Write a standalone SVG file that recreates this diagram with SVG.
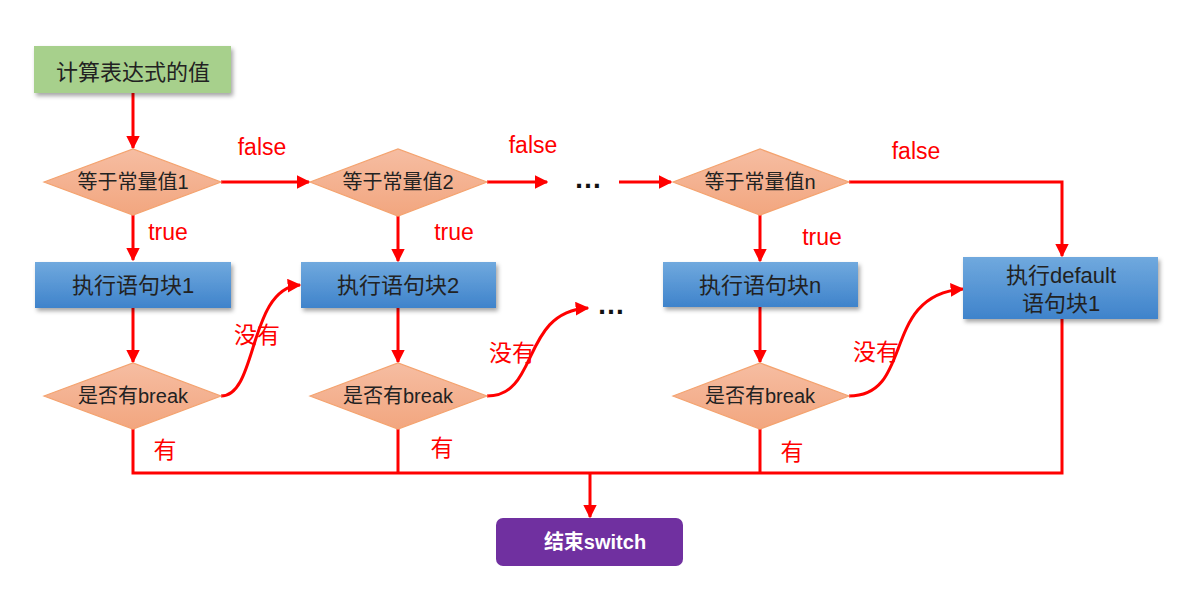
<svg xmlns="http://www.w3.org/2000/svg" width="1190" height="596" viewBox="0 0 1190 596">
<defs>
<style>
.t{font-family:"Liberation Sans","Noto Sans CJK SC",sans-serif;fill:#222;text-anchor:middle}
.box{font-size:22px}
.dt{font-size:20px}
.lbl{font-family:"Liberation Sans","Noto Sans CJK SC",sans-serif;fill:#ff0000;font-size:23px;text-anchor:middle}
.dots{font-family:"Liberation Sans",sans-serif;fill:#111;font-size:28px;font-weight:bold;text-anchor:middle}
.ln{fill:none;stroke:#ff0000;stroke-width:3}
.dia{fill:url(#gd);stroke:#f4a36f;stroke-width:1.2}
.blue{fill:url(#gb);filter:url(#sh)}
</style>
<linearGradient id="gb" x1="0" y1="0" x2="0" y2="1"><stop offset="0" stop-color="#70a9de"/><stop offset="1" stop-color="#3f83cb"/></linearGradient>
<linearGradient id="gd" x1="0" y1="0" x2="0" y2="1"><stop offset="0" stop-color="#f6bda2"/><stop offset="1" stop-color="#f2a67f"/></linearGradient>
<filter id="sh" x="-10%" y="-10%" width="125%" height="140%"><feDropShadow dx="2" dy="3" stdDeviation="2" flood-color="#000" flood-opacity="0.35"/></filter>
<marker id="ar" viewBox="0 0 10 10" refX="9" refY="5" markerWidth="4.6" markerHeight="4.6" orient="auto" markerUnits="strokeWidth"><path d="M0,0 L10,5 L0,10 z" fill="#ff0000"/></marker>
</defs>
<rect width="1190" height="596" fill="#fff"/>

<g id="connectors">
<path class="ln" d="M133,93 V148" marker-end="url(#ar)"/>
<path class="ln" d="M221,182 H309" marker-end="url(#ar)"/>
<path class="ln" d="M487,182 H547" marker-end="url(#ar)"/>
<path class="ln" d="M619,182 H671" marker-end="url(#ar)"/>
<path class="ln" d="M849,182 H1062 V256" marker-end="url(#ar)"/>
<path class="ln" d="M133,215 V260" marker-end="url(#ar)"/>
<path class="ln" d="M398,216 V261" marker-end="url(#ar)"/>
<path class="ln" d="M760,215 V261" marker-end="url(#ar)"/>
<path class="ln" d="M133,308 V362" marker-end="url(#ar)"/>
<path class="ln" d="M398,308 V362" marker-end="url(#ar)"/>
<path class="ln" d="M760,307 V362" marker-end="url(#ar)"/>
<path class="ln" d="M221,396 C258,396 248,288 300,285" marker-end="url(#ar)"/>
<path class="ln" d="M487,396 C540,396 520,312 588,308" marker-end="url(#ar)"/>
<path class="ln" d="M849,396 C915,396 880,295 963,289" marker-end="url(#ar)"/>
<path class="ln" d="M133,429 V473 H1062 V319"/>
<path class="ln" d="M398,429 V473"/>
<path class="ln" d="M760,429 V473"/>
<path class="ln" d="M590,473 V517" marker-end="url(#ar)"/>
</g>

<g id="labels">
<text class="lbl" x="262" y="155">false</text>
<text class="lbl" x="533" y="153">false</text>
<text class="lbl" x="916" y="159">false</text>
<text class="lbl" x="168" y="240">true</text>
<text class="lbl" x="454" y="240">true</text>
<text class="lbl" x="822" y="245">true</text>
<text class="lbl" x="257" y="343">没有</text>
<text class="lbl" x="512" y="361">没有</text>
<text class="lbl" x="876" y="360">没有</text>
<text class="lbl" x="165" y="458">有</text>
<text class="lbl" x="442" y="456">有</text>
<text class="lbl" x="792" y="460">有</text>
<text class="dots" x="588" y="188">…</text>
<text class="dots" x="611" y="314">…</text>
</g>

<g id="start">
<rect x="34" y="46" width="197" height="47" fill="#a7d08c" filter="url(#sh)"/>
<text class="t box" x="133" y="80">计算表达式的值</text>
</g>

<g id="cond1">
<polygon class="dia" points="44,182 133,149 221,182 133,215"/>
<text class="t dt" x="133" y="189">等于常量值1</text>
</g>
<g id="cond2">
<polygon class="dia" points="310,182 398,149 487,182 398,216"/>
<text class="t dt" x="398" y="189">等于常量值2</text>
</g>
<g id="condn">
<polygon class="dia" points="673,182 760,149 849,182 760,215"/>
<text class="t dt" x="760" y="189">等于常量值n</text>
</g>

<g id="exec1">
<rect class="blue" x="35" y="262" width="196" height="46"/>
<text class="t box" x="133" y="293">执行语句块1</text>
</g>
<g id="exec2">
<rect class="blue" x="301" y="262" width="195" height="46"/>
<text class="t box" x="398" y="293">执行语句块2</text>
</g>
<g id="execn">
<rect class="blue" x="663" y="262" width="195" height="45"/>
<text class="t box" x="760" y="293">执行语句块n</text>
</g>
<g id="default">
<rect class="blue" x="963" y="257" width="195" height="62"/>
<text class="t box" x="1061" y="283">执行default</text>
<text class="t box" x="1061" y="311">语句块1</text>
</g>

<g id="break1">
<polygon class="dia" points="44,396 133,363 221,396 133,429"/>
<text class="t dt" x="133" y="403">是否有break</text>
</g>
<g id="break2">
<polygon class="dia" points="310,396 398,363 487,396 398,429"/>
<text class="t dt" x="398" y="403">是否有break</text>
</g>
<g id="breakn">
<polygon class="dia" points="673,396 760,363 849,396 760,429"/>
<text class="t dt" x="760" y="403">是否有break</text>
</g>

<g id="end">
<rect x="496" y="518" width="187" height="48" rx="7" fill="#7030a0"/>
<text class="t" x="595" y="549" style="fill:#fff;font-size:20px;font-weight:bold">结束switch</text>
</g>
</svg>
